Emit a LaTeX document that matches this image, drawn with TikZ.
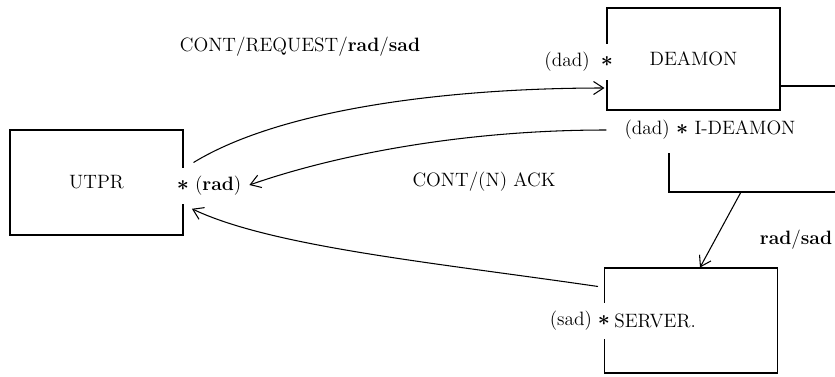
\documentclass[tikz,border=0pt]{standalone}
\usepackage{amsmath}
\usetikzlibrary{arrows.meta,positioning,calc}
\newcommand{\ad}[1]{\textbf{#1}}
\newcommand{\mk}{{\large$\boldsymbol{\ast}$}}

\begin{document}
\begin{tikzpicture}[x=0.02cm,y=-0.02cm]
      \tikzset{every node/.style={font=\fontsize{11}{13}\selectfont}}
      \tikzset{procbox/.style={draw, semithick, minimum width=3.46cm, minimum height=2.1cm, inner sep=0pt}}
      \tikzset{starmark/.style={fill=white, inner xsep=1pt, inner ysep=0pt, minimum height=0.72cm}}
      \tikzset{flow/.style={semithick, -{Straight Barb[length=2mm,width=2.6mm]}}}
      \useasboundingbox (0,0) rectangle (835,376);
      % the three process boxes
      \node[procbox] (utpr) at (96.5,182.5) {UTPR};
      \node[procbox, minimum height=2.04cm] (deamon) at (693.5,59) {DEAMON};
      \node[procbox] (server) at (691,320.5) {};
      % ports
      \node[starmark] (ustar) at (183,186) {\mk};
      \node[right=1pt of ustar, inner sep=1pt] (rad) {(\ad{rad})};
      \node[starmark] (dstar) at (607,62) {\mk};
      \node[left=4pt of dstar, inner sep=1pt] (dad) {(dad)};
      \node[starmark] (sstar) at (604,321) {\mk};
      \node[left=1pt of sstar, inner sep=1pt] (sad) {(sad)};
      \node[right=0pt of sstar, inner sep=1pt] (srvname) {SERVER.};
      % I-DEAMON, open box
      \node (ideamon) at (710,130) {(dad) \mk\ I-DEAMON};
      \coordinate (idcorner) at (669,192);
      \draw[semithick] (669,153) -- (idcorner) -- (835,192);
      \draw[semithick] ($(deamon.east)+(0,27)$) -- ++(56,0);
      % messages
      \node (req) at (300,47) {CONT/REQUEST/\ad{rad}/\ad{sad}};
      \node (ack) at (484,182) {CONT/(N) ACK};
      \node (radsad) at (796,240) {\ad{rad}/\ad{sad}};
      \draw[flow] ($(utpr.east)+(10,-20)$) .. controls +(90,-55) and +(-150,0) .. ($(deamon.west)+(-2,29)$);
      \draw[flow] ($(ideamon.west)+(-12,0)$) .. controls +(-150,0) and +(80,-28) .. ($(rad.east)+(6,-1)$);
      \draw[flow] ($(server.north west)+(-6,19)$) .. controls +(-165,-24) and +(80,38) .. ($(rad.south west)+(-1,11)$);
      \draw[flow] ($(idcorner)+(72,0)$) -- ($(server.north)+(9,0)$);
    \end{tikzpicture}
\end{document}
